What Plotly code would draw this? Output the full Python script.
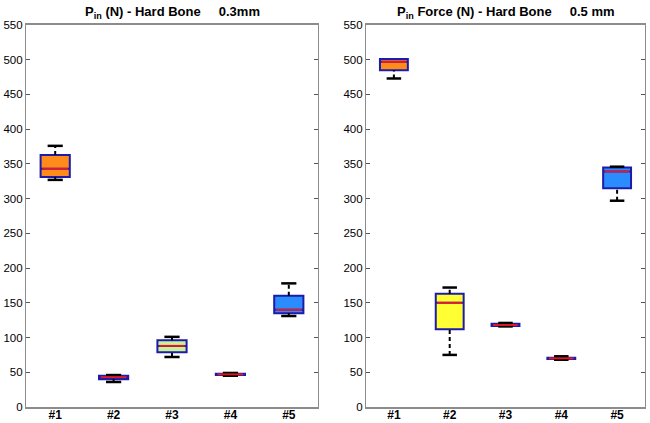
import plotly.graph_objects as go

categories = ["#1", "#2", "#3", "#4", "#5"]
positions = [1, 2, 3, 4, 5]

# Left panel: 0.3 mm
left_lower = [327, 36, 72, 45, 131]
left_q1 = [331, 40, 79, 46, 135]
left_median = [343, 43, 88, 47, 140]
left_q3 = [363, 45, 96, 48, 160]
left_upper = [376, 46, 101, 49, 178]

# Right panel: 0.5 mm
right_lower = [473, 75, 116, 68, 297]
right_q1 = [485, 112, 116.5, 69, 315]
right_median = [497, 150, 118, 70, 339]
right_q3 = [501, 163, 120, 71, 345]
right_upper = [501, 172, 121, 73, 346]

left_fill = ["#ff8c1a", "#ff8c1a", "#c8f09a", "#c03070", "#2b8cff"]
right_fill = ["#ff8c1a", "#ffff33", "#c03070", "#3050d0", "#2b8cff"]

y_ticks = list(range(0, 551, 50))

BORDER = "#1c1ca8"
HALF_BOX = 0.25
HALF_CAP = 0.13

fig = go.Figure()


def add_panel(xaxis, yaxis, lower, q1, med, q3, upper, fills):
    for p, lo, a, m, b, up, fc in zip(positions, lower, q1, med, q3, upper, fills):
        fig.add_trace(go.Box(
            x=[p], q1=[a], median=[m], q3=[b], lowerfence=[a], upperfence=[b],
            width=2 * HALF_BOX, fillcolor=fc, line=dict(color=BORDER, width=2),
            whiskerwidth=0, boxpoints=False, showlegend=False,
            xaxis=xaxis, yaxis=yaxis, hoverinfo="skip"))
    sx, sy = [], []
    for p, lo, a, b, up in zip(positions, lower, q1, q3, upper):
        if up > b:
            sx += [p, p, None]
            sy += [b, up, None]
        if lo < a:
            sx += [p, p, None]
            sy += [lo, a, None]
    fig.add_trace(go.Scatter(x=sx, y=sy, mode="lines",
                             line=dict(color="black", width=2, dash="4px,3px"),
                             showlegend=False, xaxis=xaxis, yaxis=yaxis, hoverinfo="skip"))
    cx, cy = [], []
    for p, lo, a, b, up in zip(positions, lower, q1, q3, upper):
        if up > b:
            cx += [p - HALF_CAP, p + HALF_CAP, None]
            cy += [up, up, None]
        if lo < a:
            cx += [p - HALF_CAP, p + HALF_CAP, None]
            cy += [lo, lo, None]
    fig.add_trace(go.Scatter(x=cx, y=cy, mode="lines",
                             line=dict(color="black", width=2.5),
                             showlegend=False, xaxis=xaxis, yaxis=yaxis, hoverinfo="skip"))
    mx, my = [], []
    for p, m in zip(positions, med):
        mx += [p - HALF_BOX + 0.03, p + HALF_BOX - 0.03, None]
        my += [m, m, None]
    fig.add_trace(go.Scatter(x=mx, y=my, mode="lines",
                             line=dict(color="#ff1a1a", width=2),
                             opacity=0.85,
                             showlegend=False, xaxis=xaxis, yaxis=yaxis, hoverinfo="skip"))


add_panel("x", "y", left_lower, left_q1, left_median, left_q3, left_upper, left_fill)
add_panel("x2", "y2", right_lower, right_q1, right_median, right_q3, right_upper, right_fill)

FAM = "Liberation Sans, Arial, sans-serif"

xcommon = dict(range=[0.5, 5.5], tickmode="array", tickvals=positions,
               ticktext=["<b>%s</b>" % c for c in categories],
               showline=True, linecolor="#8c8c8c", linewidth=1.5, mirror=True,
               ticks="", showgrid=False, zeroline=False, automargin=False,
               ticklabelstandoff=-4,
               tickfont=dict(family=FAM, size=12, color="black"))
ycommon = dict(range=[0, 550], tickmode="array", tickvals=y_ticks,
               showline=True, linecolor="#8c8c8c", linewidth=1.2, mirror="ticks",
               ticks="inside", ticklen=4, tickcolor="#555555",
               showgrid=False, zeroline=False, automargin=False,
               tickfont=dict(family=FAM, size=11.5, color="black"))

W, H = 650, 423
L, R, T, B = 26, 5, 25, 16
pw = W - L - R
d1 = (318 - L) / pw
d2 = (366 - L) / pw

fig.update_layout(
    width=W, height=H,
    margin=dict(l=L, r=R, t=T, b=B),
    paper_bgcolor="white", plot_bgcolor="white",
    font=dict(family=FAM, size=12, color="black"),
    showlegend=False,
    xaxis=dict(domain=[0, d1], anchor="y", **xcommon),
    yaxis=dict(domain=[0, 1], anchor="x", **ycommon),
    xaxis2=dict(domain=[d2, 1], anchor="y2", **xcommon),
    yaxis2=dict(domain=[0, 1], anchor="x2", **ycommon),
    annotations=[
        dict(text="<b>P<sub>in</sub> (N) - Hard Bone&nbsp;&nbsp;&nbsp;&nbsp;&nbsp;0.3mm</b>",
             x=d1 / 2, y=1, xref="paper", yref="paper", xanchor="center", yanchor="bottom",
             yshift=2, showarrow=False, font=dict(family=FAM, size=13, color="black")),
        dict(text="<b>P<sub>in</sub> Force (N) - Hard Bone&nbsp;&nbsp;&nbsp;&nbsp;&nbsp;0.5 mm</b>",
             x=(d2 + 1) / 2, y=1, xref="paper", yref="paper", xanchor="center", yanchor="bottom",
             yshift=2, showarrow=False, font=dict(family=FAM, size=13, color="black")),
    ],
)

fig.write_html(
    "out.html",
    config={"responsive": False, "displayModeBar": False},
    post_script="document.body.style.margin='0';document.body.style.overflow='hidden';",
)
